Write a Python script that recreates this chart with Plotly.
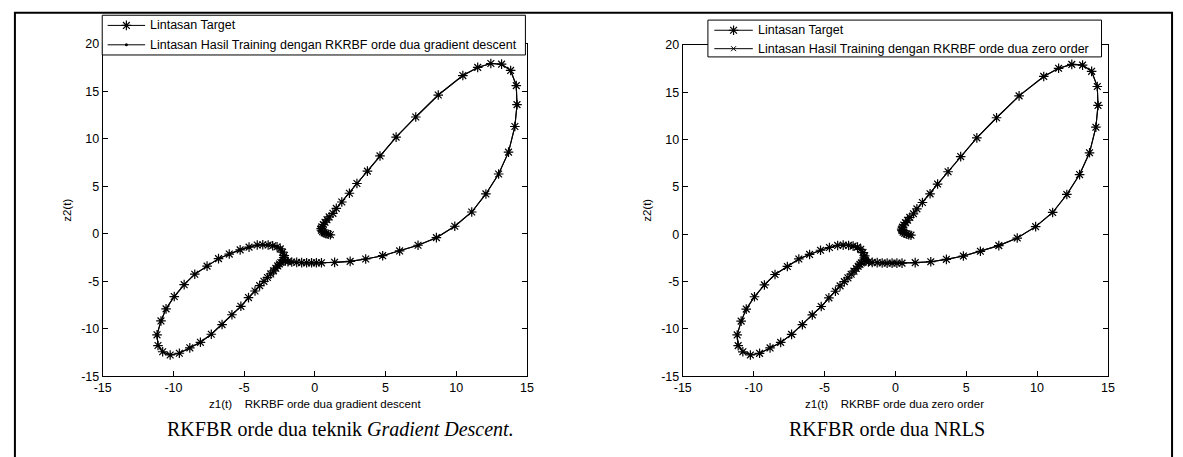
import plotly.graph_objects as go

W, H = 1183, 457

# ---- data (trajectory z1(t), z2(t)) ----
z1_target = [1.10, 0.95, 0.80, 0.66, 0.55, 0.47, 0.45, 0.50, 0.60, 0.72, 0.86, 1.02,
             1.28, 1.52, 1.91, 2.45, 2.98, 3.72, 4.61, 5.75, 7.14, 8.73, 10.47, 11.52,
             12.45, 13.21, 13.85, 14.25, 14.30, 14.15, 13.70, 13.00, 12.10, 11.10, 9.90,
             8.60, 7.30, 6.00, 4.80, 3.60, 2.50, 1.40, 0.47, 0.11, -0.23, -0.58, -0.93,
             -1.28, -1.63, -1.90, -2.08, -2.18, -2.20, -2.16, -2.28, -2.44, -2.67, -2.98,
             -3.30, -3.68, -4.07, -4.65, -5.28, -6.05, -6.81, -7.62, -8.49, -9.24, -9.94,
             -10.52, -10.88, -11.16, -11.09, -10.76, -10.23, -9.58, -8.84, -8.09, -7.32,
             -6.56, -5.86, -5.23, -4.69, -4.23, -3.90, -3.60, -3.35, -3.12, -2.92, -2.76,
             -2.62, -2.50, -2.40]
z2_target = [-0.10, -0.05, 0.02, 0.10, 0.22, 0.38, 0.55, 0.75, 0.98, 1.22, 1.48, 1.78,
             2.16, 2.68, 3.35, 4.27, 5.30, 6.60, 8.20, 10.18, 12.30, 14.61, 16.66, 17.52,
             17.93, 17.86, 17.20, 15.60, 13.60, 11.30, 8.60, 6.30, 4.20, 2.30, 0.80,
             -0.40, -1.20, -1.80, -2.30, -2.65, -2.90, -3.00, -3.05, -3.05, -3.05, -3.05, -3.03,
             -3.00, -2.97, -2.93, -2.85, -2.70, -2.50, -2.28, -1.93, -1.59, -1.36, -1.25,
             -1.18, -1.15, -1.18, -1.40, -1.69, -2.13, -2.61, -3.40, -4.25, -5.35, -6.60,
             -7.90, -9.17, -10.63, -11.76, -12.41, -12.75, -12.57, -12.00, -11.42, -10.57,
             -9.55, -8.52, -7.63, -6.71, -6.02, -5.45, -5.00, -4.60, -4.22, -3.90, -3.62,
             -3.38, -3.18, -3.02]

# training outputs overlap the target trajectory in both pictures
z1_gradient_descent = list(z1_target)
z2_gradient_descent = list(z2_target)
z1_zero_order = list(z1_target)
z2_zero_order = list(z2_target)

x_ticks = [-15, -10, -5, 0, 5, 10, 15]
x_tick_labels = ["-15", "-10", "-5", "0", "5", "10", "15"]
y_ticks = [-15, -10, -5, 0, 5, 10, 15, 20]
y_tick_labels = ["-15", "-10", "-5", "0", "5", "10", "15", "20"]

name_target = "Lintasan Target"
name_gd = "Lintasan Hasil Training dengan RKRBF orde dua gradient descent"
name_zo = "Lintasan Hasil Training dengan RKRBF orde dua zero order"
xlabel_gd = "z1(t)\u00a0\u00a0\u00a0\u00a0RKRBF orde dua gradient descent"
xlabel_zo = "z1(t)\u00a0\u00a0\u00a0\u00a0RKRBF orde dua zero order"
ylabel = "z2(t)"
caption_gd = "RKFBR orde dua teknik <i>Gradient Descent.</i>"
caption_zo = "RKFBR orde dua NRLS"

SANS = "Liberation Sans, Arial, sans-serif"
SERIF = "Liberation Serif, Times New Roman, serif"
FS_TICK = 12.5
FS_LEG = 12.5
FS_LAB = 11.5


def px(x):
    return x / W


def py(y):
    return 1 - y / H


target_marker = dict(symbol="asterisk-open", size=8, color="black",
                     line=dict(color="black", width=1.2))
gd_marker = dict(symbol="circle", size=3, color="black")
zo_marker = dict(symbol="x-thin-open", size=5, color="black",
                 line=dict(color="black", width=1))

fig = go.Figure()

# left panel
fig.add_trace(go.Scatter(x=z1_target, y=z2_target, mode="lines+markers", name=name_target,
                         line=dict(color="black", width=1.1), marker=target_marker,
                         xaxis="x", yaxis="y"))
fig.add_trace(go.Scatter(x=z1_gradient_descent, y=z2_gradient_descent, mode="lines+markers",
                         name=name_gd, line=dict(color="black", width=1.1), marker=gd_marker,
                         xaxis="x", yaxis="y"))
# right panel
fig.add_trace(go.Scatter(x=z1_target, y=z2_target, mode="lines+markers", name=name_target,
                         line=dict(color="black", width=1.1), marker=target_marker,
                         xaxis="x2", yaxis="y2"))
fig.add_trace(go.Scatter(x=z1_zero_order, y=z2_zero_order, mode="lines+markers",
                         name=name_zo, line=dict(color="black", width=1.1), marker=zo_marker,
                         xaxis="x2", yaxis="y2"))

# ---- MATLAB-style legend boxes drawn on a full-figure pixel overlay (x3/y3) ----
legends = [
    dict(box=(94.5, 523.5, 8.5, 49.5), rows=(19, 39), sample=(100, 138), tx=141,
         entries=[(name_target, target_marker), (name_gd, gd_marker)]),
    dict(box=(708.5, 1107.5, 13.5, 51.5), rows=(24, 43), sample=(715, 754), tx=757,
         entries=[(name_target, target_marker), (name_zo, zo_marker)]),
]
annotations = []
for lg in legends:
    l, r, t, b = lg["box"]
    fig.add_trace(go.Scatter(x=[l, r, r, l, l], y=[t, t, b, b, t], mode="lines",
                             fill="toself", fillcolor="white",
                             line=dict(color="black", width=1),
                             xaxis="x3", yaxis="y3", hoverinfo="skip"))
    s0, s1 = lg["sample"]
    for (label, mk), ry in zip(lg["entries"], lg["rows"]):
        fig.add_trace(go.Scatter(x=[s0, s1], y=[ry, ry], mode="lines",
                                 line=dict(color="black", width=1),
                                 xaxis="x3", yaxis="y3", hoverinfo="skip"))
        fig.add_trace(go.Scatter(x=[(s0 + s1) / 2], y=[ry], mode="markers", marker=mk,
                                 xaxis="x3", yaxis="y3", hoverinfo="skip"))
        annotations.append(dict(text=label, x=px(lg["tx"]), y=py(ry), xref="paper",
                                yref="paper", showarrow=False, xanchor="left",
                                yanchor="middle",
                                font=dict(family=SANS, size=FS_LEG, color="black")))

axis_common = dict(showline=True, linecolor="black", linewidth=1, mirror="ticks",
                   ticks="inside", ticklen=5, tickcolor="black", tickwidth=1,
                   showgrid=False, zeroline=False,
                   tickfont=dict(family=SANS, size=FS_TICK, color="black"))

fig.update_layout(
    width=W, height=H, margin=dict(l=0, r=0, t=0, b=0),
    paper_bgcolor="white", plot_bgcolor="rgba(0,0,0,0)", showlegend=False,
    xaxis=dict(domain=[px(95), px(525)], range=[-15, 15], tickvals=x_ticks,
               ticktext=x_tick_labels, anchor="y", **axis_common),
    yaxis=dict(domain=[py(381), py(38)], range=[-15, 20], tickvals=y_ticks,
               ticktext=y_tick_labels, anchor="x", **axis_common),
    xaxis2=dict(domain=[px(683), px(1114)], range=[-15, 15], tickvals=x_ticks,
                ticktext=x_tick_labels, anchor="y2", **axis_common),
    yaxis2=dict(domain=[py(381), py(39)], range=[-15, 20], tickvals=y_ticks,
                ticktext=y_tick_labels, anchor="x2", **axis_common),
    xaxis3=dict(domain=[0, 1], range=[0, W], visible=False, anchor="y3",
                fixedrange=True),
    yaxis3=dict(domain=[0, 1], range=[H, 0], visible=False, anchor="x3",
                fixedrange=True),
)

annotations += [
    dict(text=xlabel_gd, x=px(310), y=py(410), xref="paper", yref="paper",
         showarrow=False, xanchor="center", yanchor="middle",
         font=dict(family=SANS, size=FS_LAB, color="black")),
    dict(text=xlabel_zo, x=px(898), y=py(410), xref="paper", yref="paper",
         showarrow=False, xanchor="center", yanchor="middle",
         font=dict(family=SANS, size=FS_LAB, color="black")),
    dict(text=ylabel, x=px(58), y=py(210), xref="paper", yref="paper", textangle=-90,
         showarrow=False, xanchor="center", yanchor="middle",
         font=dict(family=SANS, size=FS_LAB, color="black")),
    dict(text=ylabel, x=px(646), y=py(210), xref="paper", yref="paper", textangle=-90,
         showarrow=False, xanchor="center", yanchor="middle",
         font=dict(family=SANS, size=FS_LAB, color="black")),
    dict(text=caption_gd, x=px(336), y=py(435), xref="paper", yref="paper",
         showarrow=False, xanchor="center", yanchor="middle",
         font=dict(family=SERIF, size=20, color="black")),
    dict(text=caption_zo, x=px(890), y=py(435), xref="paper", yref="paper",
         showarrow=False, xanchor="center", yanchor="middle",
         font=dict(family=SERIF, size=20, color="black")),
]
fig.update_layout(annotations=annotations)

fig.add_shape(type="rect", xref="paper", yref="paper",
              x0=px(6), x1=px(1179), y0=-0.2, y1=py(6),
              line=dict(color="black", width=2), fillcolor="rgba(0,0,0,0)", layer="above")

fig.write_html("out.html")
